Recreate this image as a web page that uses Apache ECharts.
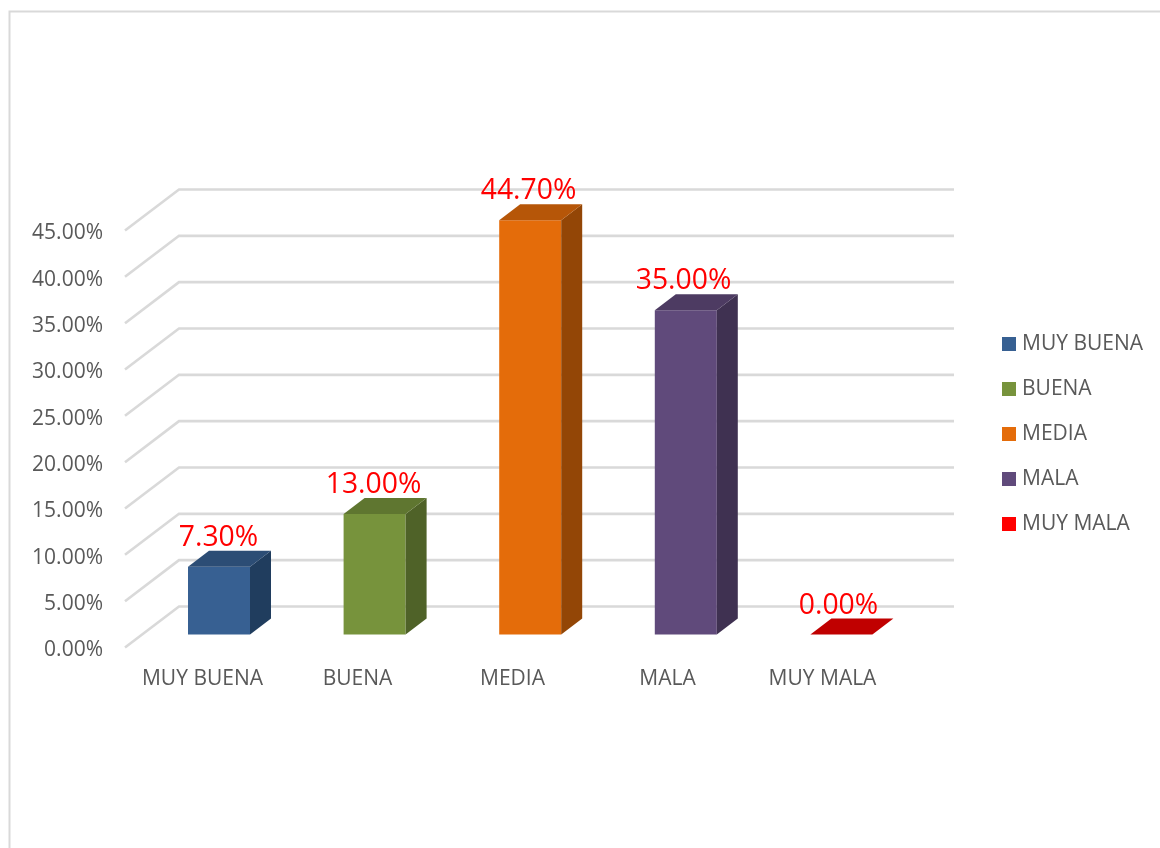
<!DOCTYPE html>
<html>
<head>
<meta charset="utf-8">
<style>html,body{margin:0;padding:0;background:#fff}#c{width:1160px;height:848px}</style>
<script src="https://cdn.jsdelivr.net/npm/echarts@6/dist/echarts.min.js"></script>
</head>
<body>
<div id="c"></div>
<script>
const categories = ['MUY BUENA', 'BUENA', 'MEDIA', 'MALA', 'MUY MALA'];
const values = [7.3, 13.0, 44.7, 35.0, 0.0];
const yTicks = [0, 5, 10, 15, 20, 25, 30, 35, 40, 45];

const frontColors = ['#376092', '#77933c', '#e46c0a', '#604a7b', '#ff0000'];
const topColors = ['#2c4d75', '#5f7630', '#b65608', '#4d3b62', '#c00000'];
const sideColors = ['#203d5e', '#4f6228', '#934606', '#3f3151', '#c00000'];

const FONT = '"Open Sans", sans-serif';
const TEXT = '#595959';
const WALL = '#d9d9d9';
const wallDX = 54, wallDY = -41;
const barDX = 16.5, barSkew = 0.6, barDY = -13, barW = 62, depthX = 21, depthY = -16, labelDX = 16;

function renderWall(params, api) {
  const cs = params.coordSys;
  const y = api.coord([0, api.value(1)])[1];
  return {
    type: 'polyline', silent: true,
    shape: { points: [[cs.x, y], [cs.x + wallDX, y + wallDY], [cs.x + cs.width + wallDX, y + wallDY]] },
    style: { stroke: WALL, lineWidth: 2.6, fill: null }
  };
}

function makeBarRenderer(i) {
  return function (params, api) {
    const top = api.coord([api.value(0), api.value(1)]);
    const base = api.coord([api.value(0), 0]);
    const cx = top[0] + barDX + api.value(0) * barSkew;
    const xl = cx - barW / 2, xr = cx + barW / 2;
    const yt = top[1] + barDY, yb = base[1] + barDY;
    const children = [];
    if (yb - yt > 0.5) {
      children.push({ type: 'rect', shape: { x: xl, y: yt, width: barW, height: yb - yt }, style: { fill: frontColors[i] } });
      children.push({ type: 'polygon', shape: { points: [[xr, yt], [xr + depthX, yt + depthY], [xr + depthX, yb + depthY], [xr, yb]] }, style: { fill: sideColors[i] } });
    }
    children.push({ type: 'polygon', shape: { points: [[xl, yt], [xl + depthX, yt + depthY], [xr + depthX, yt + depthY], [xr, yt]] }, style: { fill: topColors[i] } });
    children.push({
      type: 'text', z2: 10,
      style: {
        x: top[0] + labelDX, y: yt + depthY - 13,
        text: api.value(1).toFixed(2) + '%',
        fill: '#ff0000', font: '28.3px ' + FONT,
        align: 'center', verticalAlign: 'middle'
      }
    });
    return { type: 'group', children };
  };
}

const series = [{
  type: 'custom', name: 'wall', silent: true, clip: false, z: 1,
  data: yTicks.map(v => [0, v]), encode: { x: 0, y: 1 },
  renderItem: renderWall
}];
categories.forEach((name, i) => {
  series.push({
    type: 'custom', name, clip: false, z: 2,
    itemStyle: { color: frontColors[i] },
    data: [[i, values[i]]], encode: { x: 0, y: 1 },
    renderItem: makeBarRenderer(i)
  });
});

const chart = echarts.init(document.getElementById('c'), null, { renderer: 'canvas' });
chart.setOption({
  animation: false,
  backgroundColor: '#ffffff',
  graphic: [{
    type: 'polyline', silent: true,
    shape: { points: [[9.5, 848], [9.5, 11.5], [1160, 11.5]] },
    style: { stroke: '#d9d9d9', lineWidth: 2, fill: null }
  }],
  grid: { left: 125, top: 230.5, width: 775, height: 417, containLabel: false },
  legend: {
    data: categories, orient: 'vertical', left: 1002, top: 331.5, padding: 0,
    icon: 'rect', itemWidth: 14, itemHeight: 14, itemGap: 20,
    selectedMode: false,
    textStyle: { color: TEXT, fontFamily: FONT, fontSize: 21, lineHeight: 25, padding: [0, 0, 0, 1] }
  },
  xAxis: {
    type: 'category', data: categories,
    axisLine: { show: false }, axisTick: { show: false }, splitLine: { show: false },
    axisLabel: { color: TEXT, fontFamily: FONT, fontSize: 21, margin: 21, interval: 0 }
  },
  yAxis: {
    type: 'value', min: 0, max: 45, interval: 5,
    axisLine: { show: false }, axisTick: { show: false }, splitLine: { show: false },
    axisLabel: {
      margin: 22,
      formatter: v => '{t|' + v.toFixed(2) + '%}',
      rich: { t: { color: TEXT, fontFamily: FONT, fontSize: 21, padding: [6, 0, 0, 0] } }
    }
  },
  series
});
</script>
</body>
</html>
